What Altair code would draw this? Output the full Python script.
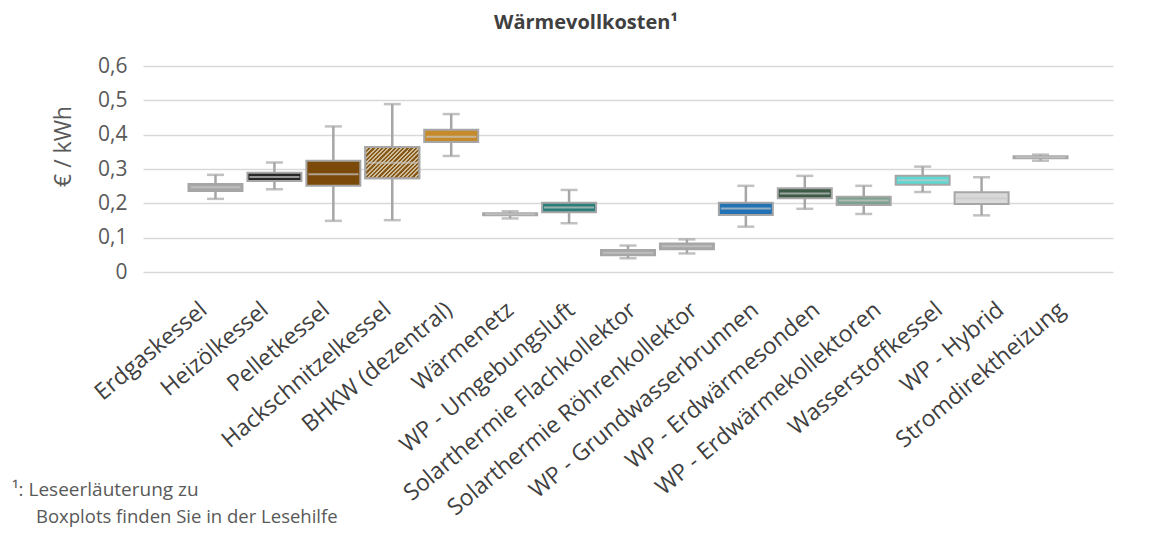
import altair as alt
import pandas as pd

categories = [
    "Erdgaskessel", "Heizölkessel", "Pelletkessel", "Hackschnitzelkessel",
    "BHKW (dezentral)", "Wärmenetz", "WP - Umgebungsluft",
    "Solarthermie Flachkollektor", "Solarthermie Röhrenkollektor",
    "WP - Grundwasserbrunnen", "WP - Erdwärmesonden", "WP - Erdwärmekollektoren",
    "Wasserstoffkessel", "WP - Hybrid", "Stromdirektheizung",
]
whisker_low = [0.213, 0.241, 0.149, 0.151, 0.338, 0.156, 0.142, 0.040, 0.054, 0.132, 0.184, 0.169, 0.233, 0.165, 0.324]
q1 = [0.236, 0.265, 0.251, 0.273, 0.379, 0.165, 0.174, 0.049, 0.066, 0.166, 0.215, 0.195, 0.254, 0.198, 0.331]
median = [0.247, 0.277, 0.285, 0.318, 0.394, 0.168, 0.188, 0.056, 0.075, 0.185, 0.229, 0.208, 0.267, 0.215, 0.334]
q3 = [0.256, 0.289, 0.324, 0.364, 0.414, 0.171, 0.202, 0.064, 0.083, 0.202, 0.244, 0.219, 0.280, 0.232, 0.337]
whisker_high = [0.283, 0.319, 0.424, 0.489, 0.460, 0.177, 0.239, 0.077, 0.095, 0.251, 0.280, 0.251, 0.307, 0.276, 0.342]
box_colors = [
    "#A6A6A6", "#262626", "#7B4A0B", "#A88455", "#C48A2C", "#A6A6A6", "#2B7F7B",
    "#A6A6A6", "#A6A6A6", "#2273B5", "#3C5A46", "#7BA08E", "#5ED8D2", "#D9D9D9", "#A6A6A6",
]
y_ticks = [0, 0.1, 0.2, 0.3, 0.4, 0.5, 0.6]
title_text = "Wärmevollkosten¹"
y_title = "€ / kWh"
footnote_1 = "¹: Leseerläuterung zu"
footnote_2 = "Boxplots finden Sie in der Lesehilfe"

df = pd.DataFrame({
    "cat": categories, "lo": whisker_low, "q1": q1, "med": median,
    "q3": q3, "hi": whisker_high,
})

FONT = "Open Sans"
GREY = "#A6A6A6"


def x_enc():
    return alt.X(
        "cat:N", sort=categories,
        scale=alt.Scale(paddingInner=0.084, paddingOuter=0.772),
        axis=alt.Axis(title=None, labels=False, ticks=False, domain=False),
    )


def y_enc(field):
    return alt.Y(
        field, scale=alt.Scale(domain=[0, 0.6], nice=False, zero=True),
        axis=alt.Axis(
            values=y_ticks, tickCount=7, title=y_title, grid=True, gridColor="#D9D9D9",
            gridWidth=1.6, domain=False, ticks=False, labelPadding=16, labelFontSize=21,
            labelColor="#595959", labelFont=FONT, labelOverlap=False,
            labelExpr="datum.value == 0 ? '0' : replace(format(datum.value, '.1f'), '.', ',')",
            titleFont=FONT, titleFontSize=23, titleFontWeight="normal", titleColor="#595959",
            titleAngle=-90, titleX=-80, titleY=80, titleAlign="center", titleBaseline="middle",
        ),
    )


base = alt.Chart(df)

whisk = base.mark_rule(color=GREY, strokeWidth=2.5).encode(
    x=x_enc(), y=y_enc("lo:Q"), y2="hi:Q"
)
caps_lo = base.mark_tick(color=GREY, size=17, thickness=2.5).encode(
    x=x_enc(), y=y_enc("lo:Q")
)
caps_hi = base.mark_tick(color=GREY, size=17, thickness=2.5).encode(
    x=x_enc(), y=y_enc("hi:Q")
)
boxes = base.mark_bar(stroke=GREY, strokeWidth=2).encode(
    x=x_enc(), y=y_enc("q1:Q"), y2="q3:Q",
    fill=alt.Fill("cat:N", scale=alt.Scale(domain=categories, range=box_colors), legend=None),
)

stops = []
n_str = 20
for k in range(n_str):
    a = k / n_str
    b = (k + 0.55) / n_str
    c = (k + 1) / n_str
    stops += [
        alt.GradientStop(color="#87591A", offset=a),
        alt.GradientStop(color="#87591A", offset=b),
        alt.GradientStop(color="#CDBD9A", offset=b),
        alt.GradientStop(color="#CDBD9A", offset=c),
    ]
hatch = alt.LinearGradient(gradient="linear", stops=stops, x1=0, y1=0, x2=1.18, y2=0.68)
hatch_box = base.transform_filter(alt.datum.cat == "Hackschnitzelkessel").mark_bar(
    stroke=GREY, strokeWidth=2, fill=hatch
).encode(x=x_enc(), y=y_enc("q1:Q"), y2="q3:Q")

meds = base.mark_tick(color="#C8C8C8", size=50, thickness=2).encode(
    x=x_enc(), y=y_enc("med:Q")
)

box_layers = alt.layer(whisk, caps_lo, caps_hi, boxes, hatch_box, meds)

# category labels (rotated), on their own point scale
labels = base.mark_text(
    angle=320, align="right", baseline="middle", font=FONT, fontSize=23, color="#404040"
).encode(
    x=alt.X("cat:N", sort=categories,
            scale=alt.Scale(type="point", range=[61, 919], padding=0), axis=None),
    y=alt.value(241),
    text="cat:N",
)

notes = alt.Chart(pd.DataFrame({"t": [footnote_1]})).mark_text(
    align="left", baseline="middle", font=FONT, fontSize=19, color="#595959"
).encode(text="t:N", x=alt.value(-131), y=alt.value(424))
notes2 = alt.Chart(pd.DataFrame({"t": [footnote_2]})).mark_text(
    align="left", baseline="middle", font=FONT, fontSize=18.5, color="#595959"
).encode(text="t:N", x=alt.value(-107), y=alt.value(451))

chart = alt.layer(box_layers, labels, notes, notes2).resolve_scale(x="independent").properties(
    width=970, height=206,
    title=alt.TitleParams(
        text=title_text, font=FONT, fontSize=20, fontWeight="bold", color="#404040",
        dx=-42, offset=22, anchor="middle",
    ),
    autosize=alt.AutoSizeParams(type="none"),
    padding={"left": 135, "top": 58, "right": 51, "bottom": 263},
).configure_view(stroke=None)

chart.save("out.html", embed_options={"renderer": "svg", "actions": False})
